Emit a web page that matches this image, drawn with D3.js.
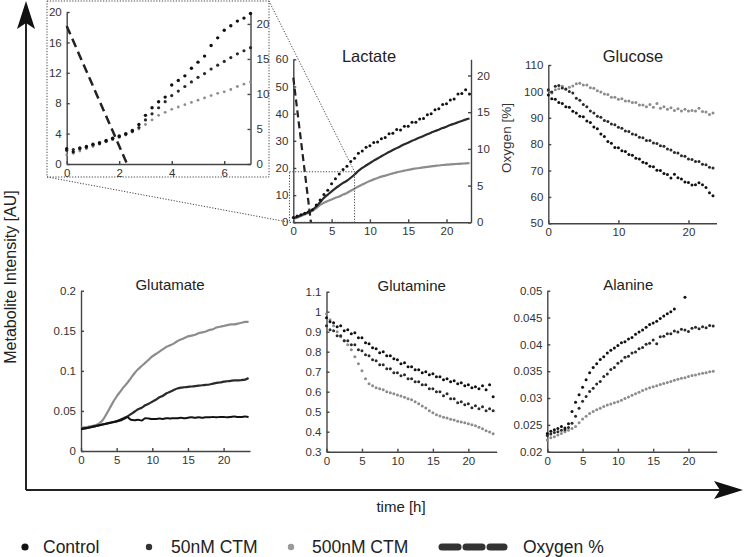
<!DOCTYPE html>
<html><head><meta charset="utf-8">
<script src="https://cdn.jsdelivr.net/npm/d3@7"></script>
<style>
body{margin:0;background:#fff;}
svg{display:block;font-family:"Liberation Sans",Arial,Helvetica,sans-serif;background:#fff;}
.axis path,.axis line{stroke:#444;stroke-width:1.4;}
.axis text{fill:#333;font-size:11.5px;font-family:"Liberation Sans",Arial,sans-serif;}
</style></head><body>
<svg id="chart" width="744" height="557"></svg>
<script>
// ---------------- DATA ----------------
const hours = [0,0.5,1,1.5,2,2.5,3,3.5,4,4.5,5,5.5,6,6.5,7,7.5,8,8.5,9,9.5,10,10.5,11,11.5,12,12.5,13,13.5,14,14.5,15,15.5,16,16.5,17,17.5,18,18.5,19,19.5,20,20.5,21,21.5,22,22.5,23,23.5];
const insetHours = [0,0.25,0.5,0.75,1,1.25,1.5,1.75,2,2.25,2.5,2.75,3,3.25,3.5,3.75,4,4.25,4.5,4.75,5,5.25,5.5,5.75,6,6.25,6.5,6.75,7];
const seriesNames = ["Control","50nM CTM","500nM CTM"];
const legendLabels = ["Control","50nM CTM","500nM CTM","Oxygen %"];
const panelTitles = ["Lactate","Glucose","Glutamate","Glutamine","Alanine"];

// Oxygen % (time, value)
const oxygenTime = [0, 2.3];
const oxygenValue = [19.7, 0];

// Lactate inset (0-7 h)
const insetControl = [2.0,1.6,2.1,2.3,2.6,2.8,3.1,3.4,3.7,4.0,4.4,5.2,6.4,7.4,8.2,8.8,10.4,11.0,11.6,12.6,13.4,14.2,15.6,16.6,17.6,18.2,18.8,19.2,19.8];
const inset50 = [1.8,1.9,2.0,2.2,2.5,2.7,3.0,3.3,3.6,3.9,4.3,4.8,5.8,6.6,7.4,8.2,9.0,9.6,10.2,10.8,11.4,11.9,12.5,13.0,13.5,14.0,14.5,14.9,15.3];
const inset500 = [1.2,1.4,1.7,2.0,2.3,2.6,2.9,3.2,3.5,3.8,4.2,4.6,5.2,5.8,6.4,6.8,7.2,7.5,7.8,8.1,8.4,8.7,9.0,9.3,9.5,9.8,10.2,10.5,10.8];

// Lactate (0-23 h)
const lactateControl = [1.8,2.3,2.8,3.3,3.9,4.6,6.4,8.2,10.2,11.8,14.2,16.0,17.8,19.4,20.6,22.4,23.6,25.4,26.2,27.6,28.2,29.4,29.6,30.8,31.2,32.6,32.8,34.2,34.0,35.4,35.4,36.8,36.8,38.0,38.2,39.6,40.0,41.4,41.8,43.4,43.6,45.0,45.4,47.2,47.4,48.8,47.2];
const lactate50 = [1.5,2.0,2.6,3.2,3.8,4.6,5.8,7.4,9.0,10.2,11.4,12.5,13.5,14.5,15.3,16.4,17.6,18.9,20.0,20.9,21.8,22.7,23.5,24.3,25.1,25.9,26.6,27.3,28.0,28.7,29.3,30.0,30.6,31.2,31.8,32.4,33.0,33.6,34.1,34.7,35.2,35.8,36.3,36.8,37.3,37.8,38.2];
const lactate500 = [1.2,1.7,2.3,2.9,3.5,4.2,5.2,6.4,7.2,7.8,8.4,9.0,9.5,10.2,10.8,11.6,12.4,13.2,13.9,14.6,15.2,15.8,16.3,16.8,17.2,17.6,18.0,18.4,18.7,19.0,19.3,19.6,19.8,20.0,20.2,20.4,20.6,20.8,20.9,21.1,21.2,21.3,21.4,21.5,21.6,21.7,21.8];

// Glucose
const glucoseControl = [98.6,97.2,97.0,95.8,95.4,94.2,94.0,92.5,91.8,90.6,90.4,88.8,88.2,86.5,85.8,83.8,82.9,81.0,80.3,78.7,78.6,77.5,77.2,76.1,75.8,74.7,74.4,73.1,72.8,71.6,71.4,70.1,70.0,68.9,68.5,67.2,68.6,67.3,66.8,65.7,65.5,64.5,64.6,65.4,64.6,63.6,61.6,60.4];
const glucose50 = [100.6,99.8,101.9,102.2,101.3,100.9,100.0,99.4,97.4,96.6,95.0,94.2,92.6,91.8,90.6,90.2,89.0,88.6,87.6,87.4,86.4,86.0,85.0,84.8,83.8,83.6,82.6,82.4,81.4,81.4,80.4,80.2,79.4,79.2,78.2,77.8,76.8,76.6,75.6,75.4,74.4,74.2,73.4,73.4,72.4,72.2,71.2,71.0];
const glucose500 = [100.2,99.4,100.6,101.0,101.9,100.8,101.6,102.0,102.9,103.1,102.4,102.4,101.4,101.2,100.2,99.8,99.0,98.8,97.8,97.8,97.0,97.2,96.4,96.4,95.8,95.8,94.8,94.8,94.2,95.0,94.0,95.4,93.6,94.2,93.2,93.8,92.8,93.4,92.6,93.2,92.6,92.8,92.6,93.6,92.4,92.2,91.2,91.8];

// Glutamate
const glutamateControl = [0.027,0.028,0.029,0.030,0.031,0.032,0.033,0.034,0.035,0.036,0.037,0.038,0.040,0.042,0.039,0.0385,0.039,0.038,0.041,0.0405,0.040,0.040,0.0405,0.040,0.041,0.0405,0.041,0.041,0.0415,0.041,0.0415,0.042,0.0415,0.042,0.0415,0.042,0.042,0.0425,0.042,0.0425,0.0425,0.042,0.0425,0.043,0.0425,0.0425,0.043,0.0425];
const glutamate50 = [0.028,0.0285,0.029,0.030,0.031,0.032,0.033,0.034,0.035,0.036,0.037,0.039,0.041,0.043,0.046,0.049,0.052,0.054,0.057,0.059,0.0615,0.064,0.067,0.069,0.072,0.074,0.076,0.078,0.079,0.0795,0.080,0.0805,0.081,0.0815,0.082,0.0825,0.083,0.084,0.085,0.0855,0.0865,0.087,0.0875,0.088,0.088,0.0885,0.089,0.091];
const glutamate500 = [0.029,0.0295,0.030,0.031,0.032,0.034,0.038,0.045,0.053,0.061,0.068,0.074,0.080,0.085,0.091,0.097,0.102,0.106,0.110,0.114,0.118,0.121,0.124,0.127,0.130,0.132,0.134,0.137,0.139,0.141,0.143,0.144,0.145,0.147,0.148,0.149,0.151,0.152,0.154,0.155,0.156,0.157,0.158,0.158,0.159,0.160,0.161,0.161];

// Glutamine
const glutamineControl = [0.97,0.95,0.945,0.925,0.93,0.905,0.91,0.89,0.895,0.87,0.87,0.845,0.84,0.82,0.815,0.795,0.8,0.78,0.78,0.765,0.76,0.74,0.745,0.725,0.725,0.71,0.71,0.695,0.7,0.685,0.69,0.675,0.675,0.66,0.665,0.65,0.655,0.64,0.645,0.63,0.635,0.62,0.625,0.615,0.63,0.61,0.635,0.575];
const glutamine50 = [0.93,0.91,0.905,0.88,0.88,0.855,0.855,0.835,0.835,0.81,0.805,0.785,0.78,0.76,0.755,0.735,0.735,0.715,0.715,0.695,0.695,0.68,0.685,0.665,0.665,0.65,0.65,0.635,0.635,0.615,0.615,0.6,0.6,0.58,0.59,0.565,0.565,0.545,0.55,0.535,0.54,0.52,0.53,0.515,0.525,0.505,0.515,0.505];
const glutamine500 = [0.99,0.96,0.93,0.9,0.875,0.855,0.835,0.81,0.775,0.74,0.705,0.665,0.64,0.63,0.62,0.615,0.61,0.6,0.595,0.59,0.583,0.578,0.572,0.565,0.56,0.55,0.54,0.528,0.518,0.505,0.495,0.485,0.478,0.472,0.468,0.462,0.458,0.452,0.448,0.445,0.44,0.435,0.43,0.422,0.415,0.405,0.398,0.39];

// Alanine
const alanineControl = [0.0234,0.0238,0.0241,0.0243,0.0247,0.0244,0.0252,0.0275,0.0292,0.0306,0.0320,0.0334,0.0347,0.0357,0.0364,0.0372,0.0377,0.0384,0.0389,0.0393,0.0398,0.0403,0.0405,0.0410,0.0413,0.0419,0.0423,0.0427,0.0432,0.0437,0.0440,0.0443,0.0448,0.0453,0.0457,0.0461,0.0466,null,null,0.0488,null,null,null,null,null,null,null,null];
const alanine50 = [0.0230,0.0233,0.0236,0.0237,0.0240,0.0241,0.0245,0.0253,0.0266,0.0281,0.0294,0.0303,0.0312,0.0318,0.0326,0.0331,0.0340,0.0345,0.0353,0.0357,0.0365,0.0369,0.0376,0.0378,0.0384,0.0386,0.0392,0.0394,0.0400,0.0402,0.0408,0.0401,0.0414,0.0415,0.0420,0.0420,0.0425,0.0423,0.0428,0.0427,0.0424,0.0430,0.0432,0.0429,0.0433,0.0431,0.0435,0.0434];
const alanine500 = [0.0222,0.0226,0.0228,0.0231,0.0234,0.0237,0.0240,0.0243,0.0247,0.0254,0.0261,0.0266,0.0271,0.0275,0.0278,0.0281,0.0284,0.0287,0.0289,0.0291,0.0293,0.0296,0.0299,0.0302,0.0305,0.0308,0.0311,0.0314,0.0317,0.0319,0.0321,0.0323,0.0325,0.0327,0.0329,0.0331,0.0333,0.0335,0.0337,0.0338,0.0340,0.0342,0.0343,0.0345,0.0346,0.0347,0.0349,0.0350];

// Tick values
const insetXTicks = [0,2,4,6], insetYTicks = [0,4,8,12,16,20], insetRTicks = [0,5,10,15,20];
const lactXTicks = [0,5,10,15,20], lactYTicks = [0,10,20,30,40,50,60], lactRTicks = [0,5,10,15,20];
const glucXTicks = [0,10,20], glucYTicks = [50,60,70,80,90,100,110];
const lowXTicks = [0,5,10,15,20];
const glutamateYTicks = [0,0.05,0.1,0.15,0.2];
const glutamineYTicks = [0.3,0.4,0.5,0.6,0.7,0.8,0.9,1,1.1];
const alanineYTicks = [0.02,0.025,0.03,0.035,0.04,0.045,0.05];

// ---------------- DRAW ----------------
const svg = d3.select('#chart');
const COL = {ctrl:'#111', c50:'#2a2a2a', c500:'#8c8c8c', oxy:'#222', axis:'#444'};
const fmt = d3.format('~g');

function makePanel(o){
  const g = svg.append('g');
  const x = d3.scaleLinear().domain(o.xd).range(o.xr);
  const y = d3.scaleLinear().domain(o.yd).range(o.yr);
  g.append('g').attr('class','axis').attr('transform',`translate(0,${o.yr[0]})`)
    .call(d3.axisBottom(x).tickValues(o.xt).tickSizeInner(-3).tickSizeOuter(0).tickPadding(5).tickFormat(fmt));
  g.append('g').attr('class','axis').attr('transform',`translate(${o.xr[0]},0)`)
    .call(d3.axisLeft(y).tickValues(o.yt).tickSizeInner(-3).tickSizeOuter(0).tickPadding(5).tickFormat(fmt));
  let yR = null;
  if (o.rd){
    yR = d3.scaleLinear().domain(o.rd).range(o.yr);
    g.append('g').attr('class','axis').attr('transform',`translate(${o.xr[1]},0)`)
      .call(d3.axisRight(yR).tickValues(o.rt).tickSizeInner(-3).tickSizeOuter(0).tickPadding(6).tickFormat(fmt));
  }
  g.selectAll('.axis text').attr('fill','#333');
  if (o.title){
    g.append('text').attr('x',o.tx).attr('y',o.ty).attr('text-anchor','middle')
      .attr('font-size',o.tfs).attr('fill','#222').text(o.title);
  }
  return {g,x,y,yR};
}
function dots(p, times, vals, color, r, ys){
  const sc = ys || p.y;
  p.g.append('g').selectAll('circle')
    .data(vals.map((v,i)=>[times[i],v]).filter(d=>d[1]!==null))
    .join('circle').attr('cx',d=>p.x(d[0])).attr('cy',d=>sc(d[1])).attr('r',r).attr('fill',color);
}
function line(p, times, vals, color, w, ys, dash){
  const sc = ys || p.y;
  const gen = d3.line().x(d=>p.x(d[0])).y(d=>sc(d[1])).curve(d3.curveMonotoneX);
  const path = p.g.append('path').datum(vals.map((v,i)=>[times[i],v]))
    .attr('d',gen).attr('fill','none').attr('stroke',color).attr('stroke-width',w);
  if (dash) path.attr('stroke-dasharray',dash);
}

// main arrow axes
svg.append('line').attr('x1',26).attr('y1',490).attr('x2',26).attr('y2',20).attr('stroke','#222').attr('stroke-width',2);
svg.append('line').attr('x1',26).attr('y1',490).attr('x2',725).attr('y2',490).attr('stroke','#222').attr('stroke-width',2);
svg.append('path').attr('d','M26,1 L35,29 L26,23 L17,29 Z').attr('fill','#111');
svg.append('path').attr('d','M743,490 L714,481 L720,490 L714,499 Z').attr('fill','#111');
svg.append('text').attr('transform','translate(16,277) rotate(-90)').attr('text-anchor','middle')
  .attr('font-size',16).attr('fill','#222').text('Metabolite Intensity [AU]');
svg.append('text').attr('x',401).attr('y',512).attr('text-anchor','middle').attr('font-size',15).attr('fill','#222').text('time [h]');

// Lactate main panel
const lac = makePanel({xd:[0,23.2], xr:[293.3,471], yd:[0,60], yr:[222.3,59.3], xt:lactXTicks, yt:lactYTicks,
  rd:[0,22.2], rt:lactRTicks, title:panelTitles[0], tx:369, ty:62, tfs:16.5});
line(lac, hours, lactate500, COL.c500, 2.2);
line(lac, hours, lactate50, COL.c50, 2.2);
dots(lac, hours, lactateControl, COL.ctrl, 1.5);
line(lac, oxygenTime, oxygenValue, COL.oxy, 2.2, lac.yR, '7,4');
svg.append('text').attr('transform','translate(511,138) rotate(-90)').attr('text-anchor','middle')
  .attr('font-size',13.5).attr('fill','#333').text('Oxygen [%]');

// zoom box in lactate
const bx0 = lac.x(-0.5), bx1 = lac.x(8), by0 = lac.y(18.6), by1 = lac.y(0);
const dotted = {stroke:'#444','stroke-width':1,'stroke-dasharray':'1.2,1.6',fill:'none'};
function applyAttrs(sel, a){ Object.entries(a).forEach(([k,v])=>sel.attr(k,v)); return sel; }
applyAttrs(svg.append('rect').attr('x',bx0).attr('y',by0).attr('width',bx1-bx0).attr('height',by1-by0), dotted);

// Inset
const insetBox = {x0:47, y0:1, x1:269, y1:177};
svg.append('rect').attr('x',insetBox.x0).attr('y',insetBox.y0).attr('width',insetBox.x1-insetBox.x0).attr('height',insetBox.y1-insetBox.y0).attr('fill','#fff');
applyAttrs(svg.append('rect').attr('x',insetBox.x0).attr('y',insetBox.y0).attr('width',insetBox.x1-insetBox.x0).attr('height',insetBox.y1-insetBox.y0), dotted);
applyAttrs(svg.append('line').attr('x1',insetBox.x1).attr('y1',insetBox.y0).attr('x2',bx1).attr('y2',by0), dotted);
applyAttrs(svg.append('line').attr('x1',insetBox.x0).attr('y1',insetBox.y1).attr('x2',bx0).attr('y2',by1), dotted);

const ins = makePanel({xd:[0,7], xr:[66.7,250.5], yd:[0,20], yr:[164,12], xt:insetXTicks, yt:insetYTicks,
  rd:[0,21.7], rt:insetRTicks});
dots(ins, insetHours, inset500, COL.c500, 1.4);
dots(ins, insetHours, inset50, COL.c50, 1.6);
dots(ins, insetHours, insetControl, COL.ctrl, 1.7);
line(ins, oxygenTime, oxygenValue, COL.oxy, 2.5, ins.yR, '9,5');

// Glucose
const glu = makePanel({xd:[0,24], xr:[548.3,716.5], yd:[50,110], yr:[223.3,65], xt:glucXTicks, yt:glucYTicks,
  title:panelTitles[1], tx:633, ty:62, tfs:16.5});
dots(glu, hours, glucose500, COL.c500, 1.5);
dots(glu, hours, glucose50, COL.c50, 1.5);
dots(glu, hours, glucoseControl, COL.ctrl, 1.5);

// Glutamate
const gla = makePanel({xd:[0,23.7], xr:[81,250], yd:[0,0.2], yr:[451,290.7], xt:lowXTicks, yt:glutamateYTicks,
  title:panelTitles[2], tx:170, ty:290, tfs:15});
line(gla, hours, glutamate500, COL.c500, 2.2);
line(gla, hours, glutamate50, COL.c50, 2.2);
line(gla, hours, glutamateControl, COL.ctrl, 2);

// Glutamine
const gln = makePanel({xd:[0,24], xr:[326.5,496.7], yd:[0.3,1.1], yr:[451.7,291.7], xt:lowXTicks, yt:glutamineYTicks,
  title:panelTitles[3], tx:411.7, ty:291, tfs:15});
dots(gln, hours, glutamine500, COL.c500, 1.5);
dots(gln, hours, glutamine50, COL.c50, 1.5);
dots(gln, hours, glutamineControl, COL.ctrl, 1.5);

// Alanine
const ala = makePanel({xd:[0,24], xr:[547.3,716.7], yd:[0.02,0.05], yr:[451.7,290.7], xt:lowXTicks, yt:alanineYTicks,
  title:panelTitles[4], tx:628.3, ty:290, tfs:15});
dots(ala, hours, alanine500, COL.c500, 1.5);
dots(ala, hours, alanine50, COL.c50, 1.5);
dots(ala, hours, alanineControl, COL.ctrl, 1.5);

// Legend
const leg = svg.append('g');
const legDots = [{x:25,c:COL.ctrl,r:3.6},{x:149,c:'#333',r:3.2},{x:291,c:'#999',r:3.2}];
const legTextX = [43,171,312,523];
const ly = 547;
legDots.forEach((d,i)=>{
  leg.append('circle').attr('cx',d.x).attr('cy',ly).attr('r',d.r).attr('fill',d.c);
});
[[442,458],[466,482],[490,504]].forEach(s=>{
  leg.append('line').attr('x1',s[0]).attr('x2',s[1]).attr('y1',ly).attr('y2',ly)
    .attr('stroke','#333').attr('stroke-width',7).attr('stroke-linecap','round');
});
legendLabels.forEach((t,i)=>{
  leg.append('text').attr('x',legTextX[i]).attr('y',ly).attr('dy','0.35em')
    .attr('font-size',17.5).attr('fill','#222').text(t);
});
</script>
</body></html>
